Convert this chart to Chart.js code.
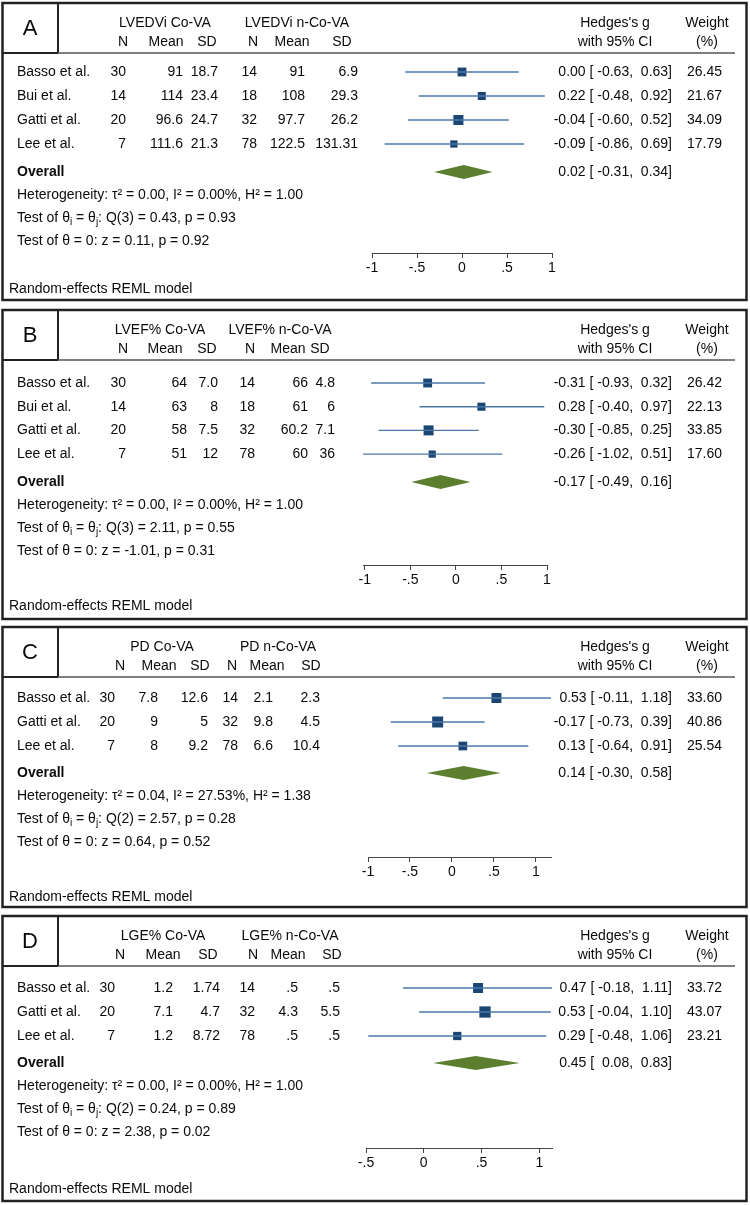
<!DOCTYPE html>
<html>
<head>
<meta charset="utf-8">
<script src="https://cdn.jsdelivr.net/npm/chart.js@4.4.1/dist/chart.umd.min.js"></script>
<style>
  html, body { margin: 0; padding: 0; background: #fff; }
  #wrap { position: relative; width: 750px; height: 1205px; }
  #wrap canvas { position: absolute; left: 0; top: 0; }
</style>
</head>
<body>
<div id="wrap">
  <canvas id="panelA" width="750" height="1205"></canvas>
  <canvas id="panelB" width="750" height="1205"></canvas>
  <canvas id="panelC" width="750" height="1205"></canvas>
  <canvas id="panelD" width="750" height="1205"></canvas>
</div>
<script>
// ---- data: panel A (LVEDVi) ----
const studiesA = ['Basso et al.', 'Bui et al.', 'Gatti et al.', 'Lee et al.'];
const nCoA = ['30', '14', '20', '7'];
const meanCoA = ['91', '114', '96.6', '111.6'];
const sdCoA = ['18.7', '23.4', '24.7', '21.3'];
const nNonA = ['14', '18', '32', '78'];
const meanNonA = ['91', '108', '97.7', '122.5'];
const sdNonA = ['6.9', '29.3', '26.2', '131.31'];
const gA = [0.00, 0.22, -0.04, -0.09];
const loA = [-0.63, -0.48, -0.60, -0.86];
const hiA = [0.63, 0.92, 0.52, 0.69];
const weightA = [26.45, 21.67, 34.09, 17.79];
const overallA = [0.02, -0.31, 0.34];
const hetA = ['0.00', '0.00%', '1.00'];
const qTestA = ['3', '0.43', '0.93'];
const zTestA = ['0.11', '0.92'];
const ticksA = [-1, -0.5, 0, 0.5, 1];

// ---- data: panel B (LVEF%) ----
const studiesB = ['Basso et al.', 'Bui et al.', 'Gatti et al.', 'Lee et al.'];
const nCoB = ['30', '14', '20', '7'];
const meanCoB = ['64', '63', '58', '51'];
const sdCoB = ['7.0', '8', '7.5', '12'];
const nNonB = ['14', '18', '32', '78'];
const meanNonB = ['66', '61', '60.2', '60'];
const sdNonB = ['4.8', '6', '7.1', '36'];
const gB = [-0.31, 0.28, -0.30, -0.26];
const loB = [-0.93, -0.40, -0.85, -1.02];
const hiB = [0.32, 0.97, 0.25, 0.51];
const weightB = [26.42, 22.13, 33.85, 17.60];
const overallB = [-0.17, -0.49, 0.16];
const hetB = ['0.00', '0.00%', '1.00'];
const qTestB = ['3', '2.11', '0.55'];
const zTestB = ['-1.01', '0.31'];
const ticksB = [-1, -0.5, 0, 0.5, 1];

// ---- data: panel C (PD) ----
const studiesC = ['Basso et al.', 'Gatti et al.', 'Lee et al.'];
const nCoC = ['30', '20', '7'];
const meanCoC = ['7.8', '9', '8'];
const sdCoC = ['12.6', '5', '9.2'];
const nNonC = ['14', '32', '78'];
const meanNonC = ['2.1', '9.8', '6.6'];
const sdNonC = ['2.3', '4.5', '10.4'];
const gC = [0.53, -0.17, 0.13];
const loC = [-0.11, -0.73, -0.64];
const hiC = [1.18, 0.39, 0.91];
const weightC = [33.60, 40.86, 25.54];
const overallC = [0.14, -0.30, 0.58];
const hetC = ['0.04', '27.53%', '1.38'];
const qTestC = ['2', '2.57', '0.28'];
const zTestC = ['0.64', '0.52'];
const ticksC = [-1, -0.5, 0, 0.5, 1];

// ---- data: panel D (LGE%) ----
const studiesD = ['Basso et al.', 'Gatti et al.', 'Lee et al.'];
const nCoD = ['30', '20', '7'];
const meanCoD = ['1.2', '7.1', '1.2'];
const sdCoD = ['1.74', '4.7', '8.72'];
const nNonD = ['14', '32', '78'];
const meanNonD = ['.5', '4.3', '.5'];
const sdNonD = ['.5', '5.5', '.5'];
const gD = [0.47, 0.53, 0.29];
const loD = [-0.18, -0.04, -0.48];
const hiD = [1.11, 1.10, 1.06];
const weightD = [33.72, 43.07, 23.21];
const overallD = [0.45, 0.08, 0.83];
const hetD = ['0.00', '0.00%', '1.00'];
const qTestD = ['2', '0.24', '0.89'];
const zTestD = ['2.38', '0.02'];
const ticksD = [-0.5, 0, 0.5, 1];

// 共通スタイル
const FF = "'Liberation Sans', Arial, Helvetica, sans-serif";
const F14 = `14px ${FF}`;
const TEXT = '#0a0a0a';
const CI_COLOR = '#4a78a8';
const MARK_COLOR = '#1b4674';
const DIAMOND_COLOR = '#5b7f2f';
const X_AXIS_H = 26;

function fmtTick(v) {
  if (v === 0) return '0';
  const s = String(Math.abs(v)).replace(/^0/, '');
  return (v < 0 ? '-' : '') + s;
}

function ciText(est, lo, hi) {
  return `${est.toFixed(2)} [${lo.toFixed(2).padStart(6)},${hi.toFixed(2).padStart(6)}]`;
}

function drawRich(ctx, x, y, parts) {
  let cx = x;
  parts.forEach(p => {
    ctx.font = p.sub ? `10px ${FF}` : F14;
    ctx.fillText(p.t, cx, p.sub ? y + 4 : y);
    cx += ctx.measureText(p.t).width;
  });
}

function drawTable(chart, P) {
  const ctx = chart.ctx;
  const L = P.layout;
  const ys = chart.scales.y;
  ctx.save();

  // 枠線
  ctx.strokeStyle = '#222';
  ctx.lineWidth = 2.5;
  ctx.strokeRect(2.5, L.top, 744, L.bottom - L.top);
  ctx.lineWidth = 2;
  ctx.beginPath();
  ctx.moveTo(58, L.top); ctx.lineTo(58, L.hl);
  ctx.moveTo(2.5, L.hl); ctx.lineTo(58, L.hl);
  ctx.stroke();
  ctx.strokeStyle = '#555';
  ctx.lineWidth = 1.3;
  ctx.beginPath();
  ctx.moveTo(58, L.hl); ctx.lineTo(735, L.hl);
  ctx.stroke();

  ctx.fillStyle = TEXT;
  ctx.textBaseline = 'middle';
  ctx.textAlign = 'center';
  ctx.font = `22px ${FF}`;
  ctx.fillText(P.label, 30, L.top + 26);

  // ヘッダー
  ctx.font = F14;
  ctx.fillText(P.groups[0], L.groupX[0], L.hl - 30);
  ctx.fillText(P.groups[1], L.groupX[1], L.hl - 30);
  ['N', 'Mean', 'SD', 'N', 'Mean', 'SD'].forEach((h, i) => ctx.fillText(h, L.subX[i], L.hl - 11));
  ctx.fillText("Hedges's g", 615, L.hl - 30);
  ctx.fillText('with 95% CI', 615, L.hl - 11);
  ctx.fillText('Weight', 707, L.hl - 30);
  ctx.fillText('(%)', 707, L.hl - 11);

  // 各研究
  P.studies.forEach((s, i) => {
    const y = ys.getPixelForValue(i);
    ctx.textAlign = 'left';
    ctx.fillText(s, 17, y);
    ctx.textAlign = 'right';
    P.cols.forEach((col, c) => ctx.fillText(col[i], L.colR[c], y));
    ctx.fillText(ciText(P.g[i], P.lo[i], P.hi[i]), 672, y);
    ctx.fillText(P.w[i].toFixed(2), 722, y);
  });

  // 全体
  const oy = ys.getPixelForValue(P.ovRow);
  ctx.textAlign = 'left';
  ctx.font = `bold 14px ${FF}`;
  ctx.fillText('Overall', 17, oy);
  ctx.font = F14;
  ctx.textAlign = 'right';
  ctx.fillText(ciText(P.overall[0], P.overall[1], P.overall[2]), 672, oy);

  ctx.textAlign = 'left';
  drawRich(ctx, 17, oy + 23, [
    { t: `Heterogeneity: \u03c4\u00b2 = ${P.het[0]}, I\u00b2 = ${P.het[1]}, H\u00b2 = ${P.het[2]}` }
  ]);
  drawRich(ctx, 17, oy + 46, [
    { t: 'Test of \u03b8' }, { t: 'i', sub: true }, { t: ' = \u03b8' }, { t: 'j', sub: true },
    { t: `: Q(${P.q[0]}) = ${P.q[1]}, p = ${P.q[2]}` }
  ]);
  drawRich(ctx, 17, oy + 69, [{ t: `Test of \u03b8 = 0: z = ${P.z[0]}, p = ${P.z[1]}` }]);
  ctx.font = F14;
  ctx.fillText('Random-effects REML model', 9, L.random);
  ctx.restore();
}

function drawDiamond(chart, P) {
  const ctx = chart.ctx;
  const xs = chart.scales.x, ys = chart.scales.y;
  const cy = ys.getPixelForValue(P.ovRow);
  const xl = xs.getPixelForValue(P.overall[1]);
  const xc = xs.getPixelForValue(P.overall[0]);
  const xr = xs.getPixelForValue(P.overall[2]);
  ctx.save();
  ctx.fillStyle = DIAMOND_COLOR;
  ctx.beginPath();
  ctx.moveTo(xl, cy);
  ctx.lineTo(xc, cy - 7);
  ctx.lineTo(xr, cy);
  ctx.lineTo(xc, cy + 7);
  ctx.closePath();
  ctx.fill();
  ctx.restore();
}

function buildPanel(id, P) {
  const L = P.layout;
  P.ovRow = (L.overall - L.row0) / L.step;
  const xMin = Math.min(P.ticks[0], ...P.lo);
  const xMax = Math.max(P.ticks[P.ticks.length - 1], ...P.hi);

  const ciSets = P.g.map((v, i) => ({
    type: 'line',
    data: [{ x: P.lo[i], y: i }, { x: P.hi[i], y: i }],
    borderColor: CI_COLOR,
    borderWidth: 1.4,
    pointRadius: 0,
    showLine: true,
    fill: false
  }));
  // 重みに応じた四角の大きさ
  const markSet = {
    type: 'scatter',
    data: P.g.map((v, i) => ({ x: v, y: i })),
    pointStyle: 'rect',
    pointRadius: c => 1.72 * Math.sqrt(P.w[c.dataIndex]) / (2 * Math.SQRT1_2),
    backgroundColor: MARK_COLOR,
    borderWidth: 0
  };

  return new Chart(document.getElementById(id), {
    type: 'scatter',
    data: { datasets: [...ciSets, markSet] },
    options: {
      responsive: false,
      animation: false,
      events: [],
      layout: {
        autoPadding: false,
        padding: { left: L.xl, right: 750 - L.xr, top: L.hl, bottom: 1205 - L.axis - X_AXIS_H }
      },
      plugins: { legend: { display: false }, tooltip: { enabled: false } },
      scales: {
        x: {
          type: 'linear',
          min: xMin,
          max: xMax,
          afterBuildTicks: s => { s.ticks = P.ticks.map(v => ({ value: v })); },
          afterFit: s => { s.height = X_AXIS_H; },
          ticks: {
            autoSkip: false, maxRotation: 0, padding: 2, color: TEXT,
            font: { family: FF, size: 14 },
            callback: v => fmtTick(v)
          },
          grid: { display: true, drawOnChartArea: false, drawTicks: true, tickLength: 5, color: '#444', lineWidth: 1 },
          border: { display: true, color: '#444', width: 1 }
        },
        y: {
          type: 'linear', display: false, reverse: true,
          min: -(L.row0 - L.hl) / L.step,
          max: (L.axis - L.row0) / L.step
        }
      }
    },
    plugins: [{
      id: 'forest_' + id,
      afterDraw: c => drawTable(c, P),
      afterDatasetsDraw: c => drawDiamond(c, P)
    }]
  });
}

buildPanel('panelA', {
  label: 'A', groups: ['LVEDVi Co-VA', 'LVEDVi n-Co-VA'], studies: studiesA,
  cols: [nCoA, meanCoA, sdCoA, nNonA, meanNonA, sdNonA],
  g: gA, lo: loA, hi: hiA, w: weightA, overall: overallA, het: hetA, q: qTestA, z: zTestA, ticks: ticksA,
  layout: { top: 3, bottom: 300, hl: 53, row0: 72, step: 24, overall: 172, axis: 253, random: 289,
    xl: 372, xr: 552, groupX: [165, 297], subX: [123, 166, 207, 253, 292, 342], colR: [126, 183, 218, 257, 305, 358] }
});
buildPanel('panelB', {
  label: 'B', groups: ['LVEF% Co-VA', 'LVEF% n-Co-VA'], studies: studiesB,
  cols: [nCoB, meanCoB, sdCoB, nNonB, meanNonB, sdNonB],
  g: gB, lo: loB, hi: hiB, w: weightB, overall: overallB, het: hetB, q: qTestB, z: zTestB, ticks: ticksB,
  layout: { top: 310, bottom: 619, hl: 360, row0: 383, step: 23.7, overall: 482, axis: 565, random: 606,
    xl: 363, xr: 547, groupX: [160, 280], subX: [123, 165, 207, 250, 288, 320], colR: [126, 187, 218, 255, 308, 335] }
});
buildPanel('panelC', {
  label: 'C', groups: ['PD Co-VA', 'PD n-Co-VA'], studies: studiesC,
  cols: [nCoC, meanCoC, sdCoC, nNonC, meanNonC, sdNonC],
  g: gC, lo: loC, hi: hiC, w: weightC, overall: overallC, het: hetC, q: qTestC, z: zTestC, ticks: ticksC,
  layout: { top: 627, bottom: 907, hl: 677, row0: 698, step: 24, overall: 773, axis: 857, random: 897,
    xl: 368, xr: 551, groupX: [162, 278], subX: [120, 159, 200, 232, 267, 311], colR: [115, 158, 208, 238, 273, 320] }
});
buildPanel('panelD', {
  label: 'D', groups: ['LGE% Co-VA', 'LGE% n-Co-VA'], studies: studiesD,
  cols: [nCoD, meanCoD, sdCoD, nNonD, meanNonD, sdNonD],
  g: gD, lo: loD, hi: hiD, w: weightD, overall: overallD, het: hetD, q: qTestD, z: zTestD, ticks: ticksD,
  layout: { top: 916, bottom: 1201, hl: 966, row0: 988, step: 24, overall: 1063, axis: 1148, random: 1189,
    xl: 366, xr: 552, groupX: [163, 290], subX: [120, 163, 208, 253, 288, 332], colR: [115, 173, 220, 255, 298, 340] }
});
</script>
</body>
</html>
